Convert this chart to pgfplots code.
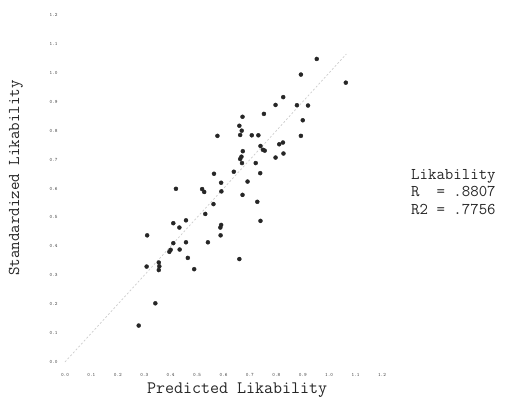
\documentclass[border=0pt]{standalone}
\usepackage{fontspec}
\setmainfont{Latin Modern Mono}
\usepackage{pgfplots}
\pgfplotsset{compat=1.18}
\begin{document}
\begin{tikzpicture}
\path[use as bounding box] (0pt,0pt) rectangle (508pt,402pt);
\begin{axis}[
  at={(65pt,40pt)}, anchor=south west,
  scale only axis, width=317pt, height=347pt,
  xmin=0, xmax=1.2, ymin=0, ymax=1.2,
  axis line style={draw=none},
  clip=false,
  xtick={0,0.1,...,1.21}, ytick={0,0.1,...,1.21},
  major tick length=0pt,
  /pgf/number format/assume math mode=true,
  /pgf/number format/fixed, /pgf/number format/fixed zerofill, /pgf/number format/precision=1,
  tick label style={font=\fontsize{5}{5}\selectfont\bfseries, text=black!75},
  xticklabel style={yshift=-8pt},
  yticklabel style={xshift=-4pt},
  xlabel={Predicted Likability},
  xlabel style={at={(axis description cs:0.543,-0.081)}, anchor=center, font=\fontsize{17.5}{17.5}\selectfont, text=black!85},
  ylabel={Standardized Likability},
  ylabel style={at={(axis description cs:-0.155,0.530)}, anchor=center, font=\fontsize{16.5}{16.5}\selectfont, text=black!85},
]
\addplot[gray!40, line width=0.7pt, dash pattern=on 2pt off 2pt] coordinates {(0,0) (1.065,1.065)};
\addplot[only marks, mark=*, mark size=2pt, black!85] coordinates {
(0.953,1.048) (0.893,0.994) (1.063,0.966) (0.826,0.916) (0.797,0.889)
(0.878,0.888) (0.920,0.887) (0.753,0.858) (0.672,0.848) (0.900,0.836)
(0.660,0.817) (0.669,0.800) (0.663,0.785) (0.577,0.782) (0.707,0.784)
(0.732,0.784) (0.893,0.782) (0.740,0.747) (0.749,0.734) (0.756,0.731)
(0.811,0.753) (0.825,0.759) (0.827,0.721) (0.797,0.707) (0.673,0.729)
(0.668,0.710) (0.663,0.702) (0.670,0.688) (0.722,0.688) (0.639,0.658)
(0.739,0.653) (0.564,0.651) (0.591,0.620) (0.691,0.624) (0.420,0.599)
(0.519,0.598) (0.527,0.588) (0.592,0.590) (0.672,0.578) (0.728,0.554)
(0.562,0.546) (0.531,0.512) (0.740,0.488) (0.410,0.480) (0.458,0.490)
(0.433,0.465) (0.591,0.474) (0.588,0.465) (0.589,0.438) (0.311,0.438)
(0.410,0.411) (0.458,0.414) (0.541,0.414) (0.400,0.388) (0.395,0.381)
(0.434,0.389) (0.465,0.360) (0.660,0.356) (0.355,0.344) (0.357,0.331)
(0.355,0.318) (0.309,0.330) (0.489,0.321) (0.342,0.203) (0.279,0.126)
};
\end{axis}
\node[anchor=north west, align=left, font=\fontsize{16.4}{17.5}\selectfont, text=black!85, inner sep=0pt] at (411pt,233pt) {Likability\\R~~=~.8807\\R2~=~.7756};
\end{tikzpicture}
\end{document}
